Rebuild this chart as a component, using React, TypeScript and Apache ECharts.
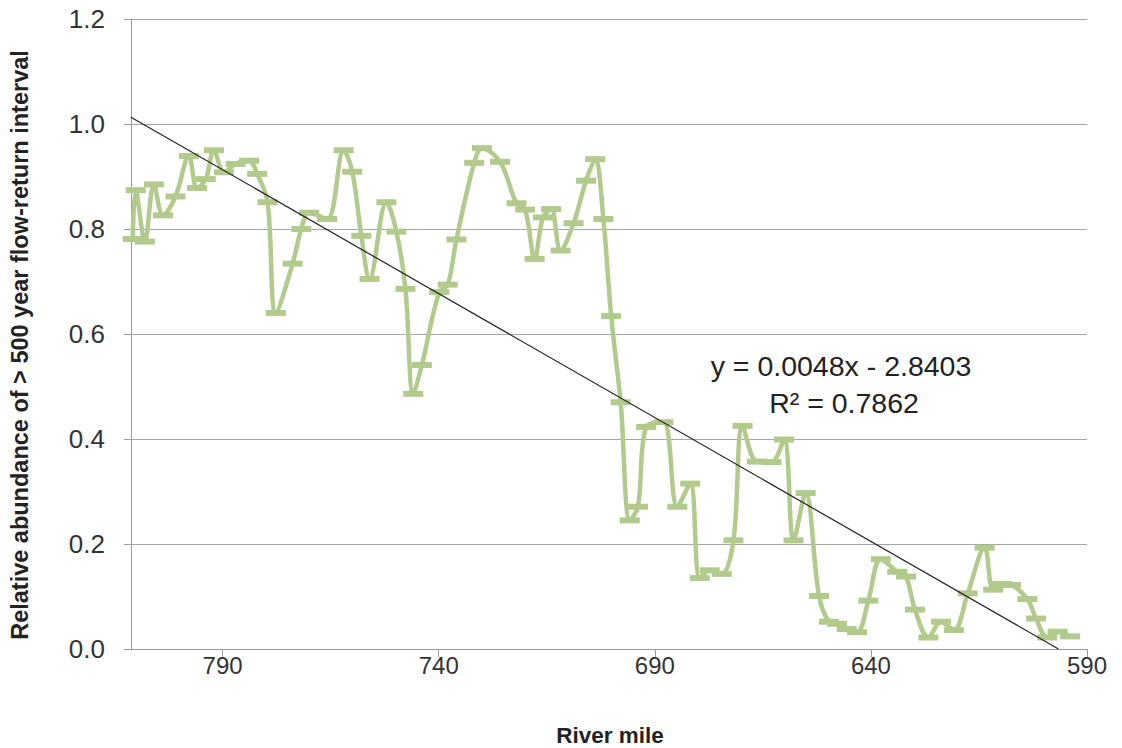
import React, { useEffect, useRef } from "react";
import * as echarts from "echarts";

// River mile (x) and relative abundance (y)
const riverMile = [
  810.8, 810.1, 808.0, 805.9, 803.8, 800.9, 797.8, 795.9, 793.9, 792.0,
  789.7, 787.0, 783.9, 782.0, 779.6, 777.7, 773.8, 771.8, 770.0, 765.8,
  762.0, 760.0, 757.9, 756.0, 752.1, 749.8, 747.7, 745.9, 743.9, 739.9,
  737.9, 735.9, 731.8, 730.0, 725.8, 722.0, 720.0, 717.8, 715.9, 714.0,
  711.8, 708.8, 705.9, 703.8, 701.9, 700.1, 697.9, 695.8, 693.9, 692.0,
  688.0, 684.8, 681.8, 679.6, 677.3, 674.5, 671.8, 669.7, 666.4, 663.0,
  660.1, 657.9, 655.1, 652.0, 649.7, 647.8, 645.6, 643.2, 640.6, 637.7,
  633.9, 631.9, 629.8, 626.7, 623.8, 620.8, 617.6, 613.7, 611.7, 609.6,
  607.6, 603.8, 601.8, 599.2, 596.8, 593.9,
];

const abundance = [
  0.781, 0.874, 0.776, 0.885, 0.826, 0.862, 0.939, 0.878, 0.895, 0.95,
  0.908, 0.924, 0.93, 0.905, 0.851, 0.64, 0.734, 0.8, 0.831, 0.819,
  0.95, 0.909, 0.787, 0.705, 0.851, 0.795, 0.686, 0.486, 0.541, 0.68,
  0.694, 0.78, 0.926, 0.954, 0.928, 0.849, 0.837, 0.743, 0.822, 0.838,
  0.759, 0.811, 0.892, 0.933, 0.819, 0.634, 0.47, 0.245, 0.271, 0.423,
  0.432, 0.271, 0.315, 0.135, 0.15, 0.143, 0.207, 0.425, 0.357, 0.356,
  0.399, 0.207, 0.297, 0.101, 0.052, 0.048, 0.038, 0.032, 0.092, 0.171,
  0.147, 0.138, 0.075, 0.022, 0.052, 0.036, 0.106, 0.193, 0.113, 0.124,
  0.122, 0.095, 0.058, 0.022, 0.033, 0.024,
];

const xTicks = [590, 640, 690, 740, 790];
const X_MIN = 590;
const X_MAX = 811.2;

// Linear trendline as drawn in the reference
const TREND_SLOPE = 0.00472;
const TREND_ZERO = 596.6;
const equationText = "y = 0.0048x - 2.8403";
const r2Text = "R\u00B2 = 0.7862";
const yTitle = "Relative abundance of > 500 year flow-return interval";
const xTitle = "River mile";

const FONT = '"Liberation Sans", Arial, sans-serif';

export default function App() {
  const ref = useRef<HTMLDivElement>(null);

  useEffect(() => {
    if (!ref.current) return;
    const chart = echarts.init(ref.current, null, { renderer: "svg" });
    const seriesData = riverMile.map((m, i) => [m, abundance[i]]);
    const trendData = [
      [X_MAX, TREND_SLOPE * (X_MAX - TREND_ZERO)],
      [TREND_ZERO, 0],
    ];
    chart.setOption({
      animation: false,
      backgroundColor: "#ffffff",
      grid: { left: 131, right: 35, top: 19, bottom: 99, containLabel: false },
      xAxis: {
        type: "value",
        inverse: true,
        min: X_MIN,
        max: X_MAX,
        interval: 50,
        axisLine: { show: true, lineStyle: { color: "#9a9a9a", width: 1 } },
        axisTick: {
          show: true,
          length: 8,
          inside: false,
          customValues: xTicks,
          lineStyle: { color: "#9a9a9a" },
        },
        axisLabel: {
          customValues: xTicks,
          fontFamily: FONT,
          fontSize: 24,
          color: "#333",
          margin: 4,
        },
        splitLine: { show: false },
      },
      yAxis: {
        type: "value",
        min: 0,
        max: 1.2,
        interval: 0.2,
        axisLine: { show: true, lineStyle: { color: "#9a9a9a", width: 1 } },
        axisTick: { show: true, length: 7, lineStyle: { color: "#9a9a9a" } },
        axisLabel: {
          fontFamily: FONT,
          fontSize: 26,
          color: "#333",
          margin: 26,
          formatter: (v: number) => v.toFixed(1),
        },
        splitLine: { show: true, lineStyle: { color: "#a6a6a6", width: 1 } },
      },
      series: [
        {
          type: "line",
          data: seriesData,
          smooth: 0.35,
          symbol: "rect",
          symbolSize: [20, 6],
          showSymbol: true,
          lineStyle: { color: "#b3ca8d", width: 4.5 },
          itemStyle: { color: "#b3ca8d" },
          z: 2,
        },
        {
          type: "line",
          data: trendData,
          symbol: "none",
          silent: true,
          lineStyle: { color: "#222", width: 1.2 },
          z: 3,
        },
      ],
      graphic: [
        {
          type: "text",
          x: 20,
          y: 345,
          rotation: Math.PI / 2,
          style: {
            text: yTitle,
            fontFamily: FONT,
            fontWeight: "bold",
            fontSize: 23.5,
            fill: "#222",
            align: "center",
            verticalAlign: "middle",
          },
        },
        {
          type: "text",
          x: 610,
          y: 735,
          style: {
            text: xTitle,
            fontFamily: FONT,
            fontWeight: "bold",
            fontSize: 22.5,
            fill: "#222",
            align: "center",
            verticalAlign: "middle",
          },
        },
        {
          type: "text",
          x: 841,
          y: 366,
          style: {
            text: equationText,
            fontFamily: FONT,
            fontSize: 28.5,
            fill: "#222",
            align: "center",
            verticalAlign: "middle",
          },
        },
        {
          type: "text",
          x: 844,
          y: 403,
          style: {
            text: r2Text,
            fontFamily: FONT,
            fontSize: 28.5,
            fill: "#222",
            align: "center",
            verticalAlign: "middle",
          },
        },
      ],
    });
    return () => chart.dispose();
  }, []);

  return (
    <div
      ref={ref}
      style={{ position: "fixed", left: 0, top: 0, width: 1122, height: 748 }}
    />
  );
}
